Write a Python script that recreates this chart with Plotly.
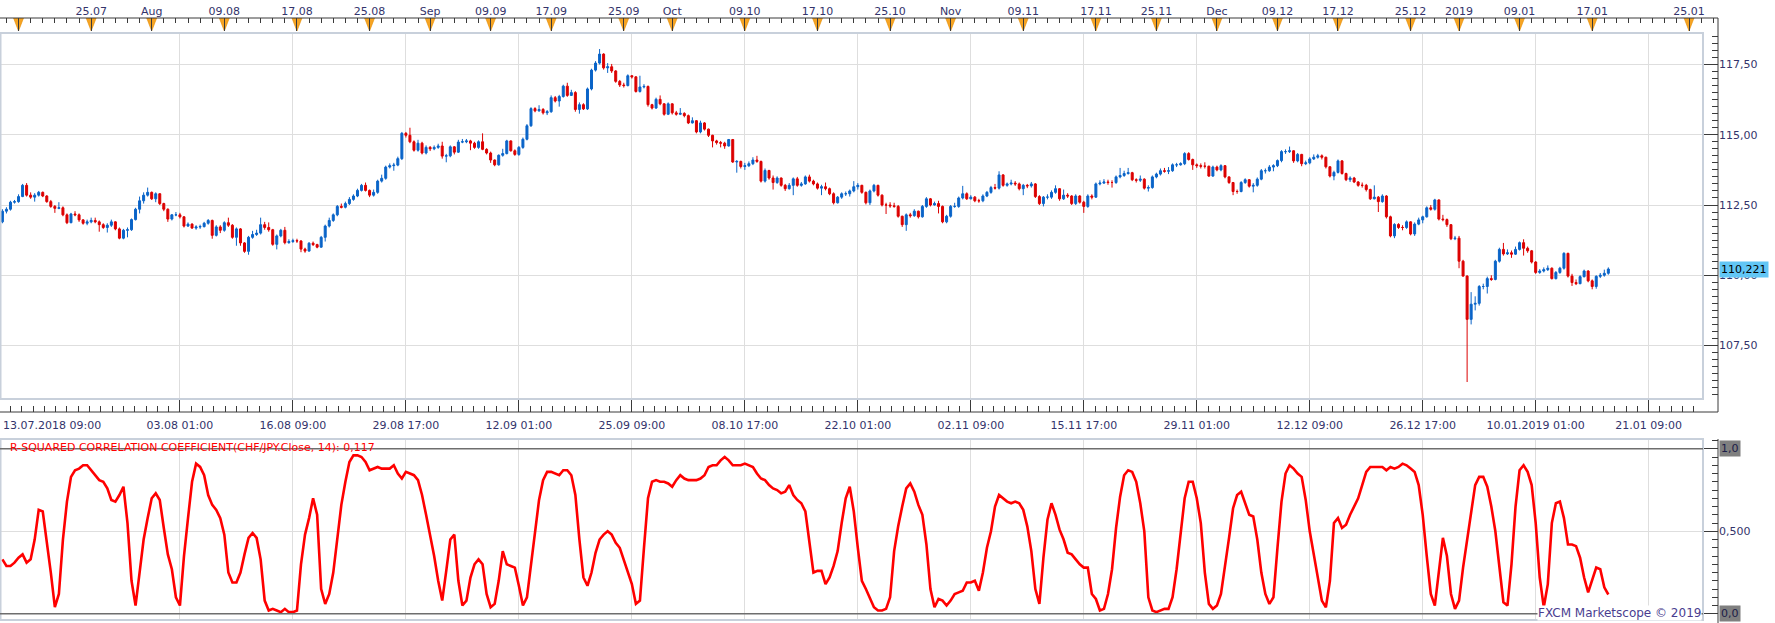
import plotly.graph_objects as go

# ---------------- data ----------------
first_open = 111.90

closes = [
    112.28, 112.35, 112.60, 112.62, 112.80, 113.20, 112.85, 112.78, 112.85, 112.95,
    112.82, 112.62, 112.45, 112.38, 112.40, 112.15, 111.87, 112.18, 112.15, 111.97,
    111.85, 111.90, 111.95, 111.90, 111.80, 111.70, 111.78, 111.90, 111.65, 111.32,
    111.60, 111.62, 111.98, 112.35, 112.65, 112.85, 112.95, 112.72, 112.90, 112.55,
    112.35, 112.00, 112.15, 112.15, 112.08, 111.75, 111.82, 111.68, 111.72, 111.73,
    111.85, 111.95, 111.42, 111.72, 111.60, 111.87, 111.78, 111.35, 111.65, 111.15,
    110.85, 111.35, 111.45, 111.50, 111.80, 111.70, 111.62, 111.10, 111.40, 111.60,
    111.16, 111.20, 111.23, 111.22, 110.93, 110.86, 111.14, 111.09, 111.00, 111.35,
    111.75, 111.95, 112.15, 112.45, 112.42, 112.55, 112.70, 112.82, 113.02, 113.20,
    113.02, 112.85, 112.95, 113.35, 113.45, 113.85, 113.90, 113.92, 114.15, 115.05,
    114.98, 114.75, 114.45, 114.70, 114.35, 114.55, 114.50, 114.55, 114.60,
    114.24, 114.25, 114.57, 114.38, 114.74, 114.75, 114.78, 114.70, 114.55, 114.75,
    114.48, 114.35, 114.10, 113.93, 114.27, 114.33, 114.78, 114.43, 114.30, 114.55,
    114.84, 115.32, 115.93, 115.85, 115.90, 115.78, 115.82, 116.32, 116.20, 116.36,
    116.73, 116.40, 116.50, 115.90, 116.07, 115.92, 116.63, 117.30, 117.55, 117.87,
    117.38, 117.42, 117.27, 116.90, 116.77, 116.75, 117.10, 117.06, 116.54, 116.70,
    116.72, 116.07, 115.95, 116.26, 116.10, 115.73, 116.10, 115.78, 115.73, 115.76,
    115.68, 115.42, 115.50, 115.10, 115.42, 115.20, 114.98, 114.78, 114.72, 114.70,
    114.60, 114.83, 114.03, 114.05, 113.87, 113.90, 113.97, 114.10, 114.05, 113.35,
    113.73, 113.46, 113.30, 113.46, 113.20, 113.08, 113.20, 113.43, 113.20, 113.25,
    113.50, 113.35, 113.25, 113.10, 113.15, 113.08, 112.90, 112.58, 112.78, 112.90,
    112.90, 113.00, 113.15, 113.20, 112.95, 112.58, 113.00, 113.20, 112.85, 112.50,
    112.50, 112.47, 112.45, 112.10, 111.80, 112.15, 112.12, 112.28, 112.08, 112.45,
    112.72, 112.50, 112.55, 112.45, 111.90, 112.10, 112.45, 112.45, 112.75, 112.90,
    112.72, 112.78, 112.65, 112.65, 112.82, 112.95, 113.12, 113.10, 113.57, 113.20,
    113.25, 113.28, 113.25, 113.08, 113.20, 113.18, 113.25, 112.80, 112.55, 112.78,
    112.78, 112.95, 113.08, 112.72, 112.85, 112.82, 112.55, 112.82, 112.60, 112.45,
    112.82, 112.78, 113.25, 113.28, 113.32, 113.30, 113.30, 113.50, 113.55, 113.62,
    113.65, 113.40, 113.38, 113.42, 113.10, 113.12, 113.50, 113.60, 113.72, 113.70,
    113.72, 113.93, 113.93, 113.97, 114.33, 114.12, 113.93, 113.90, 113.88, 113.88,
    113.53, 113.85, 113.75, 113.90, 113.50, 113.30, 112.98, 112.98, 113.30, 113.40,
    113.17, 113.20, 113.42, 113.72, 113.72, 113.85, 113.90, 114.08, 114.40, 114.40,
    114.43, 114.07, 114.30, 113.97, 114.00, 114.14, 114.20, 114.25, 114.20, 113.86,
    113.53, 113.66, 114.07, 113.62, 113.40, 113.46, 113.32, 113.20, 113.20, 113.05,
    112.72, 112.78, 112.62, 112.82, 112.08, 111.40, 111.81, 111.70, 111.70, 111.90,
    111.47, 111.82, 111.97, 112.08, 112.40, 112.35, 112.68, 112.00, 111.98, 111.80,
    111.30, 111.32, 110.50, 109.97, 108.43, 108.97, 109.00, 109.60, 109.60, 109.88,
    109.85, 110.50, 110.92, 110.76, 110.80, 110.75, 110.92, 111.16, 110.96, 110.87,
    110.47, 110.10, 110.15, 110.20, 110.25, 109.88, 110.10, 110.25, 110.78, 109.97,
    109.74, 109.70, 109.95, 110.15, 109.80, 109.60, 109.96, 110.00, 110.07, 110.221,
]

highs = [
    112.35, 112.42, 112.65, 112.68, 112.88, 113.25, 113.28, 112.95, 112.92, 113.00,
    112.98, 112.85, 112.68, 112.50, 112.60, 112.45, 112.20, 112.22, 112.28, 112.20,
    112.00, 111.98, 112.05, 112.05, 111.95, 111.85, 111.85, 111.98, 111.92, 111.70,
    111.65, 111.70, 112.02, 112.40, 112.80, 112.95, 113.12, 112.98, 112.95, 112.92,
    112.58, 112.38, 112.18, 112.25, 112.22, 112.10, 111.88, 111.85, 111.78, 111.80,
    111.90, 112.00, 111.98, 111.78, 111.78, 111.92, 112.05, 111.82, 111.70, 111.68,
    111.18, 111.40, 111.58, 111.62, 112.05, 111.90, 111.88, 111.65, 111.45, 111.65,
    111.72, 111.28, 111.30, 111.30, 111.25, 110.98, 111.18, 111.20, 111.12, 111.40,
    111.80, 112.05, 112.20, 112.50, 112.55, 112.62, 112.78, 112.88, 113.08, 113.25,
    113.30, 113.05, 113.05, 113.40, 113.58, 113.90, 113.98, 114.00, 114.22, 115.10,
    115.10, 115.25, 114.80, 114.82, 114.75, 114.62, 114.60, 114.62, 114.68,
    114.75, 114.32, 114.62, 114.60, 114.82, 114.85, 114.85, 114.82, 114.75, 114.80,
    115.05, 114.52, 114.40, 114.12, 114.30, 114.50, 114.82, 114.80, 114.48, 114.60,
    114.90, 115.38, 115.98, 115.98, 116.05, 115.95, 115.88, 116.40, 116.38, 116.42,
    116.78, 116.85, 116.60, 116.55, 116.15, 116.12, 116.68, 117.35, 117.62, 118.05,
    117.90, 117.55, 117.52, 117.30, 116.95, 116.85, 117.15, 117.12, 117.08, 117.10,
    116.80, 116.75, 116.10, 116.32, 116.40, 116.12, 116.15, 116.12, 115.85, 115.95,
    115.80, 115.72, 115.62, 115.52, 115.50, 115.45, 115.22, 115.00, 114.82, 114.78,
    114.75, 114.85, 114.85, 114.10, 114.08, 114.00, 114.05, 114.20, 114.25, 114.08,
    113.80, 113.75, 113.55, 113.52, 113.48, 113.25, 113.28, 113.48, 113.50, 113.32,
    113.55, 113.58, 113.40, 113.30, 113.22, 113.30, 113.12, 112.95, 112.82, 112.95,
    112.98, 113.05, 113.35, 113.28, 113.22, 112.98, 113.05, 113.25, 113.22, 112.88,
    112.58, 112.60, 112.58, 112.50, 112.12, 112.20, 112.22, 112.35, 112.30, 112.50,
    112.78, 112.75, 112.62, 112.65, 112.48, 112.15, 112.50, 112.58, 112.80, 113.18,
    112.95, 112.85, 112.82, 112.72, 112.88, 113.00, 113.18, 113.25, 113.70, 113.60,
    113.30, 113.40, 113.35, 113.30, 113.25, 113.25, 113.32, 113.28, 112.85, 112.82,
    112.88, 113.02, 113.20, 113.10, 113.05, 112.92, 112.85, 112.88, 112.85, 112.65,
    112.88, 112.88, 113.30, 113.38, 113.42, 113.40, 113.38, 113.55, 113.82, 113.72,
    113.82, 113.68, 113.45, 113.55, 113.45, 113.20, 113.55, 113.65, 113.80, 113.82,
    113.85, 113.98, 114.00, 114.02, 114.38, 114.38, 114.15, 113.98, 113.98, 114.02,
    113.90, 113.90, 113.90, 113.95, 113.92, 113.52, 113.32, 113.05, 113.35, 113.45,
    113.42, 113.28, 113.48, 113.78, 113.80, 113.92, 113.95, 114.12, 114.45, 114.48,
    114.58, 114.45, 114.35, 114.32, 114.08, 114.20, 114.30, 114.32, 114.30, 114.22,
    113.88, 113.72, 114.12, 114.10, 113.65, 113.52, 113.50, 113.35, 113.30, 113.25,
    113.08, 113.20, 112.82, 112.88, 112.85, 112.12, 111.85, 111.85, 111.78, 111.95,
    111.92, 111.88, 112.05, 112.12, 112.45, 112.50, 112.72, 112.70, 112.15, 112.02,
    111.82, 111.40, 111.40, 110.55, 110.00, 109.40, 109.25, 109.65, 109.70, 109.95,
    110.00, 110.55, 110.98, 111.15, 110.92, 110.88, 111.02, 111.20, 111.28, 111.02,
    110.90, 110.50, 110.22, 110.28, 110.35, 110.28, 110.15, 110.30, 110.82, 110.80,
    110.05, 109.85, 110.00, 110.20, 110.18, 109.85, 110.00, 110.08, 110.20, 110.28,
]

lows = [
    111.85, 112.20, 112.30, 112.55, 112.58, 112.78, 112.80, 112.72, 112.62, 112.80,
    112.78, 112.58, 112.40, 112.22, 112.35, 112.10, 111.82, 111.85, 112.10, 111.90,
    111.80, 111.78, 111.85, 111.85, 111.55, 111.65, 111.52, 111.72, 111.60, 111.28,
    111.28, 111.35, 111.58, 111.95, 112.20, 112.55, 112.80, 112.68, 112.60, 112.50,
    112.28, 111.90, 111.95, 112.10, 112.02, 111.70, 111.72, 111.65, 111.62, 111.65,
    111.70, 111.80, 111.30, 111.38, 111.50, 111.55, 111.72, 111.30, 111.05, 111.05,
    110.80, 110.73, 111.30, 111.40, 111.45, 111.62, 111.55, 111.05, 110.92, 111.35,
    111.10, 111.12, 111.15, 111.15, 110.82, 110.80, 110.84, 111.04, 110.96, 110.98,
    111.20, 111.70, 111.90, 112.10, 112.38, 112.38, 112.50, 112.65, 112.78, 112.98,
    112.98, 112.78, 112.80, 112.90, 113.30, 113.40, 113.80, 113.72, 113.88, 114.10,
    114.90, 114.70, 114.40, 114.40, 114.30, 114.30, 114.42, 114.45, 114.50,
    114.15, 114.02, 114.20, 114.30, 114.35, 114.70, 114.70, 114.45, 114.50, 114.50,
    114.45, 114.30, 114.00, 113.88, 113.90, 114.22, 114.30, 114.40, 114.25, 114.25,
    114.50, 114.80, 115.28, 115.80, 115.82, 115.72, 115.70, 115.78, 116.15, 116.00,
    116.32, 116.35, 116.38, 115.82, 115.75, 115.88, 115.88, 116.58, 117.25, 117.50,
    117.32, 117.20, 117.20, 116.85, 116.70, 116.68, 116.72, 117.00, 116.50, 116.50,
    116.65, 116.00, 115.90, 115.92, 116.05, 115.68, 115.70, 115.72, 115.68, 115.70,
    115.62, 115.38, 115.40, 115.05, 115.05, 115.15, 114.92, 114.55, 114.65, 114.55,
    114.50, 114.58, 114.00, 113.65, 113.80, 113.75, 113.85, 113.92, 114.00, 113.30,
    113.30, 113.40, 113.05, 113.25, 113.15, 113.00, 113.05, 112.85, 113.15, 113.15,
    113.22, 113.30, 113.20, 113.05, 112.85, 113.02, 112.85, 112.52, 112.55, 112.72,
    112.82, 112.80, 112.95, 113.05, 112.90, 112.52, 112.50, 112.95, 112.80, 112.45,
    112.18, 112.40, 112.40, 112.05, 111.72, 111.58, 112.05, 112.08, 112.02, 112.05,
    112.40, 112.45, 112.48, 112.20, 111.85, 111.85, 112.05, 112.40, 112.40, 112.70,
    112.68, 112.70, 112.60, 112.58, 112.60, 112.78, 112.90, 113.05, 113.05, 113.15,
    113.15, 113.20, 113.18, 113.02, 112.85, 113.10, 113.12, 112.75, 112.50, 112.45,
    112.70, 112.72, 112.90, 112.65, 112.68, 112.75, 112.50, 112.50, 112.55, 112.22,
    112.40, 112.70, 112.75, 113.20, 113.25, 113.22, 113.12, 113.25, 113.45, 113.50,
    113.58, 113.35, 113.30, 113.32, 113.05, 112.98, 113.08, 113.45, 113.55, 113.65,
    113.60, 113.68, 113.85, 113.90, 113.92, 114.08, 113.75, 113.82, 113.80, 113.80,
    113.50, 113.50, 113.70, 113.70, 113.45, 113.25, 112.85, 112.90, 112.95, 113.25,
    113.12, 112.95, 113.15, 113.38, 113.62, 113.68, 113.70, 113.85, 114.02, 114.32,
    114.35, 114.00, 114.02, 113.88, 113.92, 113.95, 114.10, 114.15, 114.12, 113.80,
    113.48, 113.38, 113.62, 113.58, 113.35, 113.32, 113.28, 113.15, 113.12, 112.98,
    112.68, 112.70, 112.25, 112.58, 112.02, 111.35, 111.32, 111.65, 111.60, 111.65,
    111.42, 111.40, 111.78, 111.85, 112.05, 112.30, 112.30, 111.95, 111.92, 111.72,
    111.25, 111.25, 110.25, 109.95, 106.20, 108.25, 108.75, 108.92, 109.50, 109.35,
    109.80, 109.82, 110.45, 110.70, 110.72, 110.62, 110.72, 110.88, 110.70, 110.80,
    110.42, 110.05, 110.05, 110.10, 110.15, 109.85, 109.85, 110.05, 110.20, 109.92,
    109.62, 109.65, 109.68, 109.92, 109.75, 109.50, 109.52, 109.90, 109.95, 110.02,
]

rsq = [
    0.33, 0.29, 0.29, 0.31, 0.34, 0.36, 0.31, 0.33, 0.45, 0.63,
    0.62, 0.45, 0.25, 0.04, 0.12, 0.45, 0.68, 0.83, 0.87, 0.88,
    0.90, 0.90, 0.87, 0.84, 0.81, 0.80, 0.76, 0.69, 0.68, 0.72,
    0.77, 0.55, 0.20, 0.05, 0.25, 0.45, 0.58, 0.70, 0.73, 0.69,
    0.52, 0.36, 0.27, 0.10, 0.05, 0.35, 0.58, 0.80, 0.91, 0.89,
    0.84, 0.72, 0.66, 0.63, 0.58, 0.48, 0.25, 0.19, 0.19, 0.25,
    0.36, 0.46, 0.49, 0.46, 0.33, 0.08, 0.02, 0.03, 0.02, 0.01,
    0.03, 0.01, 0.01, 0.02, 0.30, 0.48, 0.58, 0.70, 0.60, 0.15,
    0.06, 0.12, 0.25, 0.45, 0.66, 0.80, 0.92, 0.96, 0.96, 0.95,
    0.92, 0.87, 0.88, 0.89, 0.88, 0.88, 0.88, 0.90, 0.85, 0.82,
    0.86, 0.85, 0.84, 0.81, 0.72, 0.60, 0.48, 0.35, 0.20, 0.08,
    0.26, 0.45, 0.48, 0.20, 0.05, 0.08, 0.22, 0.30, 0.33, 0.30,
    0.12, 0.04, 0.06, 0.20, 0.38, 0.30, 0.29, 0.28, 0.17, 0.05,
    0.10, 0.30, 0.50, 0.69, 0.81, 0.86, 0.86, 0.85, 0.84, 0.87,
    0.87, 0.84, 0.72, 0.45, 0.22, 0.17, 0.25, 0.37, 0.45, 0.48,
    0.50, 0.48, 0.43, 0.40, 0.33, 0.26, 0.18, 0.06, 0.08, 0.40,
    0.70, 0.80, 0.81, 0.80, 0.80, 0.79, 0.77, 0.81, 0.84, 0.82,
    0.81, 0.81, 0.81, 0.82, 0.84, 0.89, 0.90, 0.90, 0.93, 0.95,
    0.93, 0.90, 0.90, 0.90, 0.91, 0.90, 0.89, 0.85, 0.82, 0.81,
    0.78, 0.76, 0.75, 0.73, 0.74, 0.78, 0.72, 0.69, 0.67, 0.62,
    0.42, 0.25, 0.26, 0.26, 0.18, 0.22, 0.29, 0.38, 0.55, 0.70,
    0.77, 0.62, 0.40, 0.20, 0.15, 0.10, 0.04, 0.02, 0.02, 0.03,
    0.10, 0.38, 0.53, 0.65, 0.76, 0.79, 0.74, 0.66, 0.60, 0.42,
    0.15, 0.04, 0.09, 0.08, 0.05, 0.08, 0.12, 0.13, 0.14, 0.19,
    0.19, 0.20, 0.14, 0.25, 0.40, 0.50, 0.65, 0.72, 0.70, 0.68,
    0.67, 0.68, 0.67, 0.63, 0.53, 0.38, 0.15, 0.06, 0.34, 0.57,
    0.67, 0.60, 0.51, 0.45, 0.37, 0.36, 0.33, 0.30, 0.28, 0.28,
    0.12, 0.09, 0.02, 0.03, 0.12, 0.27, 0.52, 0.71, 0.84, 0.87,
    0.86, 0.80, 0.67, 0.50, 0.10, 0.02, 0.01, 0.02, 0.03, 0.03,
    0.10, 0.27, 0.50, 0.70, 0.80, 0.80, 0.70, 0.55, 0.25, 0.06,
    0.03, 0.05, 0.12, 0.28, 0.46, 0.64, 0.72, 0.74, 0.67, 0.60,
    0.59, 0.45, 0.25, 0.12, 0.06, 0.10, 0.40, 0.68, 0.85, 0.90,
    0.88, 0.85, 0.83, 0.69, 0.50, 0.36, 0.21, 0.08, 0.04, 0.20,
    0.55, 0.58, 0.52, 0.54, 0.60, 0.65, 0.70, 0.78, 0.86, 0.89,
    0.89, 0.89, 0.89, 0.87, 0.89, 0.88, 0.89, 0.91, 0.90, 0.88,
    0.86, 0.78, 0.60, 0.35, 0.12, 0.05, 0.25, 0.46, 0.35, 0.12,
    0.03, 0.08, 0.28, 0.45, 0.63, 0.78, 0.83, 0.83, 0.77, 0.65,
    0.50, 0.28, 0.07, 0.05, 0.30, 0.65, 0.87, 0.90, 0.86, 0.78,
    0.55, 0.22, 0.04, 0.18, 0.55, 0.67, 0.68, 0.58, 0.42, 0.42,
    0.41, 0.34, 0.22, 0.13, 0.20, 0.28, 0.27, 0.16, 0.117,
]

opens = [first_open] + closes[:-1]
candle_idx = list(range(len(closes)))

# bottom time axis (candle index -> label)
grid_ticks = [44, 72, 100, 128, 156, 184, 212, 240, 268, 296, 324, 352, 380, 408]
grid_labels = ["03.08 01:00", "16.08 09:00", "29.08 17:00", "12.09 01:00",
               "25.09 09:00", "08.10 17:00", "22.10 01:00", "02.11 09:00",
               "15.11 17:00", "29.11 01:00", "12.12 09:00", "26.12 17:00",
               "10.01.2019 01:00", "21.01 09:00"]
start_label = "13.07.2018 09:00"

# top calendar ruler
top_ticks = [4, 22, 37, 55, 73, 91, 106, 121, 136, 154, 166, 184, 202, 220,
             235, 253, 271, 286, 301, 316, 331, 349, 361, 376, 394, 418]
top_labels = ["", "25.07", "Aug", "09.08", "17.08", "25.08", "Sep", "09.09",
              "17.09", "25.09", "Oct", "09.10", "17.10", "25.10", "Nov", "09.11",
              "17.11", "25.11", "Dec", "09.12", "17.12", "25.12", "2019", "09.01",
              "17.01", "25.01"]

indicator_name = "R-SQUARED CORRELATION COEFFICIENT(CHF/JPY.Close, 14)"
watermark = "FXCM Marketscope \u00a9 2019"

# ---------------- geometry / styles ----------------
W, H = 1775, 623


def fx(px):
    return px / W


def fy(py):
    return 1 - py / H


PLOT_R, AXIS_X = 1703, 1718
TOP_LINE, TRI_BOT = 18, 31
MAIN_TOP, MAIN_BOT, BOT_AXIS = 33, 399, 412
IND_TOP, IND_BOT = 439, 620
X0, STEP = 2.4, 4.035            # px of candle 0, px per candle

x_range = [(0 - X0) / STEP, (PLOT_R - X0) / STEP]
x3_range = [(0 - X0) / STEP, (AXIS_X - X0) / STEP]
y_range = [117.5 - (MAIN_BOT - 64.5) / 28.1, 117.5 + (64.5 - MAIN_TOP) / 28.1]
y2_range = [-(IND_BOT - 613.8) / 165.0, 1 + (448.8 - IND_TOP) / 165.0]

BLUE = "#0A64C8"
RED = "#DC0000"
LINE_RED = "#FF0000"
GRID = "#DEDEDE"
FRAME = "#C8D0DB"
AXIS = "#3A3A3A"
TXT = "#33336B"
ORANGE = "#F6A423"
FONT = "DejaVu Sans"
tickfont = dict(family=FONT, size=11, color=TXT)

fig = go.Figure()

fig.add_trace(go.Candlestick(
    x=candle_idx, open=opens, high=highs, low=lows, close=closes,
    increasing=dict(line=dict(color=BLUE, width=1), fillcolor=BLUE),
    decreasing=dict(line=dict(color=RED, width=1), fillcolor=RED),
    whiskerwidth=0, xaxis="x", yaxis="y", showlegend=False, hoverinfo="skip",
))

fig.add_trace(go.Scatter(
    x=candle_idx, y=rsq, mode="lines",
    line=dict(color=LINE_RED, width=2.6),
    xaxis="x2", yaxis="y2", showlegend=False, hoverinfo="skip",
))

# orange markers on the calendar ruler
hw = 5.0 / STEP
tri_x, tri_y = [], []
for t in top_ticks:
    tri_x += [t - hw, t + hw, t, t - hw, None]
    tri_y += [1, 1, 0, 1, None]
fig.add_trace(go.Scatter(
    x=tri_x, y=tri_y, mode="lines", fill="toself", fillcolor=ORANGE,
    line=dict(color="#E48C00", width=0.6),
    xaxis="x3", yaxis="y3", showlegend=False, hoverinfo="skip",
))

fig.update_layout(
    width=W, height=H, autosize=False,
    margin=dict(l=0, r=0, t=0, b=0),
    paper_bgcolor="white", plot_bgcolor="white",
    separators=",.",
    showlegend=False,
    font=dict(family=FONT, size=11, color=TXT),
    xaxis=dict(
        domain=[0, fx(PLOT_R)], range=x_range, anchor="free", position=fy(BOT_AXIS),
        rangeslider=dict(visible=False),
        tickmode="array", tickvals=grid_ticks, ticktext=grid_labels,
        ticks="inside", ticklen=BOT_AXIS - MAIN_BOT, tickwidth=1, tickcolor=AXIS,
        ticklabelstandoff=5,
        minor=dict(tick0=44, dtick=2.8, ticks="inside", ticklen=6,
                   tickcolor=AXIS, showgrid=False),
        showgrid=True, gridcolor=GRID, gridwidth=1,
        showline=False, zeroline=False, tickfont=tickfont, fixedrange=True,
    ),
    yaxis=dict(
        domain=[fy(MAIN_BOT), fy(MAIN_TOP)], range=y_range,
        anchor="free", position=fx(AXIS_X), side="right",
        tick0=0, dtick=2.5, tickformat=".2f",
        ticks="inside", ticklen=AXIS_X - PLOT_R, tickwidth=1, tickcolor=AXIS,
        minor=dict(dtick=0.25, ticks="inside", ticklen=6, tickcolor=AXIS,
                   showgrid=False),
        showgrid=True, gridcolor=GRID, gridwidth=1,
        showline=False, zeroline=False, tickfont=tickfont, fixedrange=True,
    ),
    xaxis2=dict(
        domain=[0, fx(PLOT_R)], range=x_range, anchor="y2",
        tickmode="array", tickvals=grid_ticks, showticklabels=False, ticks="",
        showgrid=True, gridcolor=GRID, gridwidth=1,
        showline=False, zeroline=False, fixedrange=True,
    ),
    yaxis2=dict(
        domain=[fy(IND_BOT), fy(IND_TOP)], range=y2_range,
        anchor="free", position=fx(AXIS_X), side="right",
        tickmode="array", tickvals=[0, 0.5, 1], ticktext=["", "0,500", ""],
        ticks="inside", ticklen=AXIS_X - PLOT_R, tickwidth=1, tickcolor=AXIS,
        minor=dict(tick0=0, dtick=0.05, ticks="inside", ticklen=6,
                   tickcolor=AXIS, showgrid=False),
        showgrid=True, gridcolor=GRID, gridwidth=1,
        showline=False, zeroline=False, tickfont=tickfont, fixedrange=True,
    ),
    xaxis3=dict(
        domain=[0, fx(AXIS_X)], range=x3_range, anchor="y3", side="top",
        tickmode="array", tickvals=top_ticks, ticktext=top_labels,
        ticks="inside", ticklen=TRI_BOT - TOP_LINE, tickwidth=1, tickcolor=AXIS,
        minor=dict(tick0=1, dtick=3, ticks="inside", ticklen=5,
                   tickcolor=AXIS, showgrid=False),
        showgrid=False, showline=False, zeroline=False,
        tickfont=tickfont, fixedrange=True,
    ),
    yaxis3=dict(
        domain=[fy(TRI_BOT), fy(TOP_LINE)], range=[0, 1], anchor="x3",
        visible=False, fixedrange=True,
    ),
)

shapes = [
    # panel frames
    dict(type="rect", xref="paper", yref="paper", x0=fx(0.5), x1=fx(PLOT_R),
         y0=fy(MAIN_BOT), y1=fy(MAIN_TOP), line=dict(color=FRAME, width=2)),
    dict(type="rect", xref="paper", yref="paper", x0=fx(0.5), x1=fx(PLOT_R),
         y0=fy(IND_BOT), y1=fy(IND_TOP), line=dict(color=FRAME, width=2)),
    # ruler / axis lines
    dict(type="line", xref="paper", yref="paper", x0=0, x1=fx(AXIS_X),
         y0=fy(TOP_LINE), y1=fy(TOP_LINE), line=dict(color=AXIS, width=1)),
    dict(type="line", xref="paper", yref="paper", x0=0, x1=fx(AXIS_X),
         y0=fy(BOT_AXIS), y1=fy(BOT_AXIS), line=dict(color=AXIS, width=1)),
    dict(type="line", xref="paper", yref="paper", x0=fx(AXIS_X), x1=fx(AXIS_X),
         y0=fy(TOP_LINE), y1=fy(BOT_AXIS), line=dict(color=AXIS, width=1)),
    dict(type="line", xref="paper", yref="paper", x0=fx(AXIS_X), x1=fx(AXIS_X),
         y0=fy(IND_TOP), y1=0, line=dict(color=AXIS, width=1)),
    # indicator bounds 1.0 and 0.0
    dict(type="line", xref="paper", yref="y2", x0=0, x1=fx(PLOT_R),
         y0=1, y1=1, line=dict(color="#6E6E6E", width=1.5)),
    dict(type="line", xref="paper", yref="y2", x0=0, x1=fx(PLOT_R),
         y0=0, y1=0, line=dict(color="#6E6E6E", width=1.5)),
]
fig.update_layout(shapes=shapes)

last_close = closes[-1]
last_rsq = rsq[-1]
annotations = [
    dict(xref="paper", yref="paper", x=fx(1), y=fy(425), xanchor="left",
         yanchor="middle", text=start_label, showarrow=False, font=tickfont),
    dict(xref="paper", yref="y", x=fx(AXIS_X + 1), y=last_close, xanchor="left",
         yanchor="middle", text=f"{last_close:.3f}".replace(".", ","),
         showarrow=False, bgcolor="#62C6F5", borderpad=1,
         font=dict(family=FONT, size=11, color="#000000")),
    dict(xref="paper", yref="y2", x=fx(AXIS_X + 1), y=1, xanchor="left",
         yanchor="middle", text="1,0", showarrow=False, bgcolor="#7F7F7F",
         borderpad=1, font=dict(family=FONT, size=11, color="#1C1C48")),
    dict(xref="paper", yref="y2", x=fx(AXIS_X + 1), y=0, xanchor="left",
         yanchor="middle", text="0,0", showarrow=False, bgcolor="#7F7F7F",
         borderpad=1, font=dict(family=FONT, size=11, color="#1C1C48")),
    dict(xref="paper", yref="paper", x=fx(8), y=fy(447), xanchor="left",
         yanchor="middle",
         text=f"{indicator_name}: {last_rsq:.3f}".replace("0.", "0,"),
         showarrow=False, font=dict(family=FONT, size=11, color=LINE_RED)),
    dict(xref="paper", yref="paper", x=fx(PLOT_R - 1), y=fy(613), xanchor="right",
         yanchor="middle", text=watermark, showarrow=False, bgcolor="white",
         borderpad=0, font=dict(family=FONT, size=12, color="#4A3D8F")),
]
fig.update_layout(annotations=annotations)

fig.write_html("out.html", config={"displayModeBar": False})
